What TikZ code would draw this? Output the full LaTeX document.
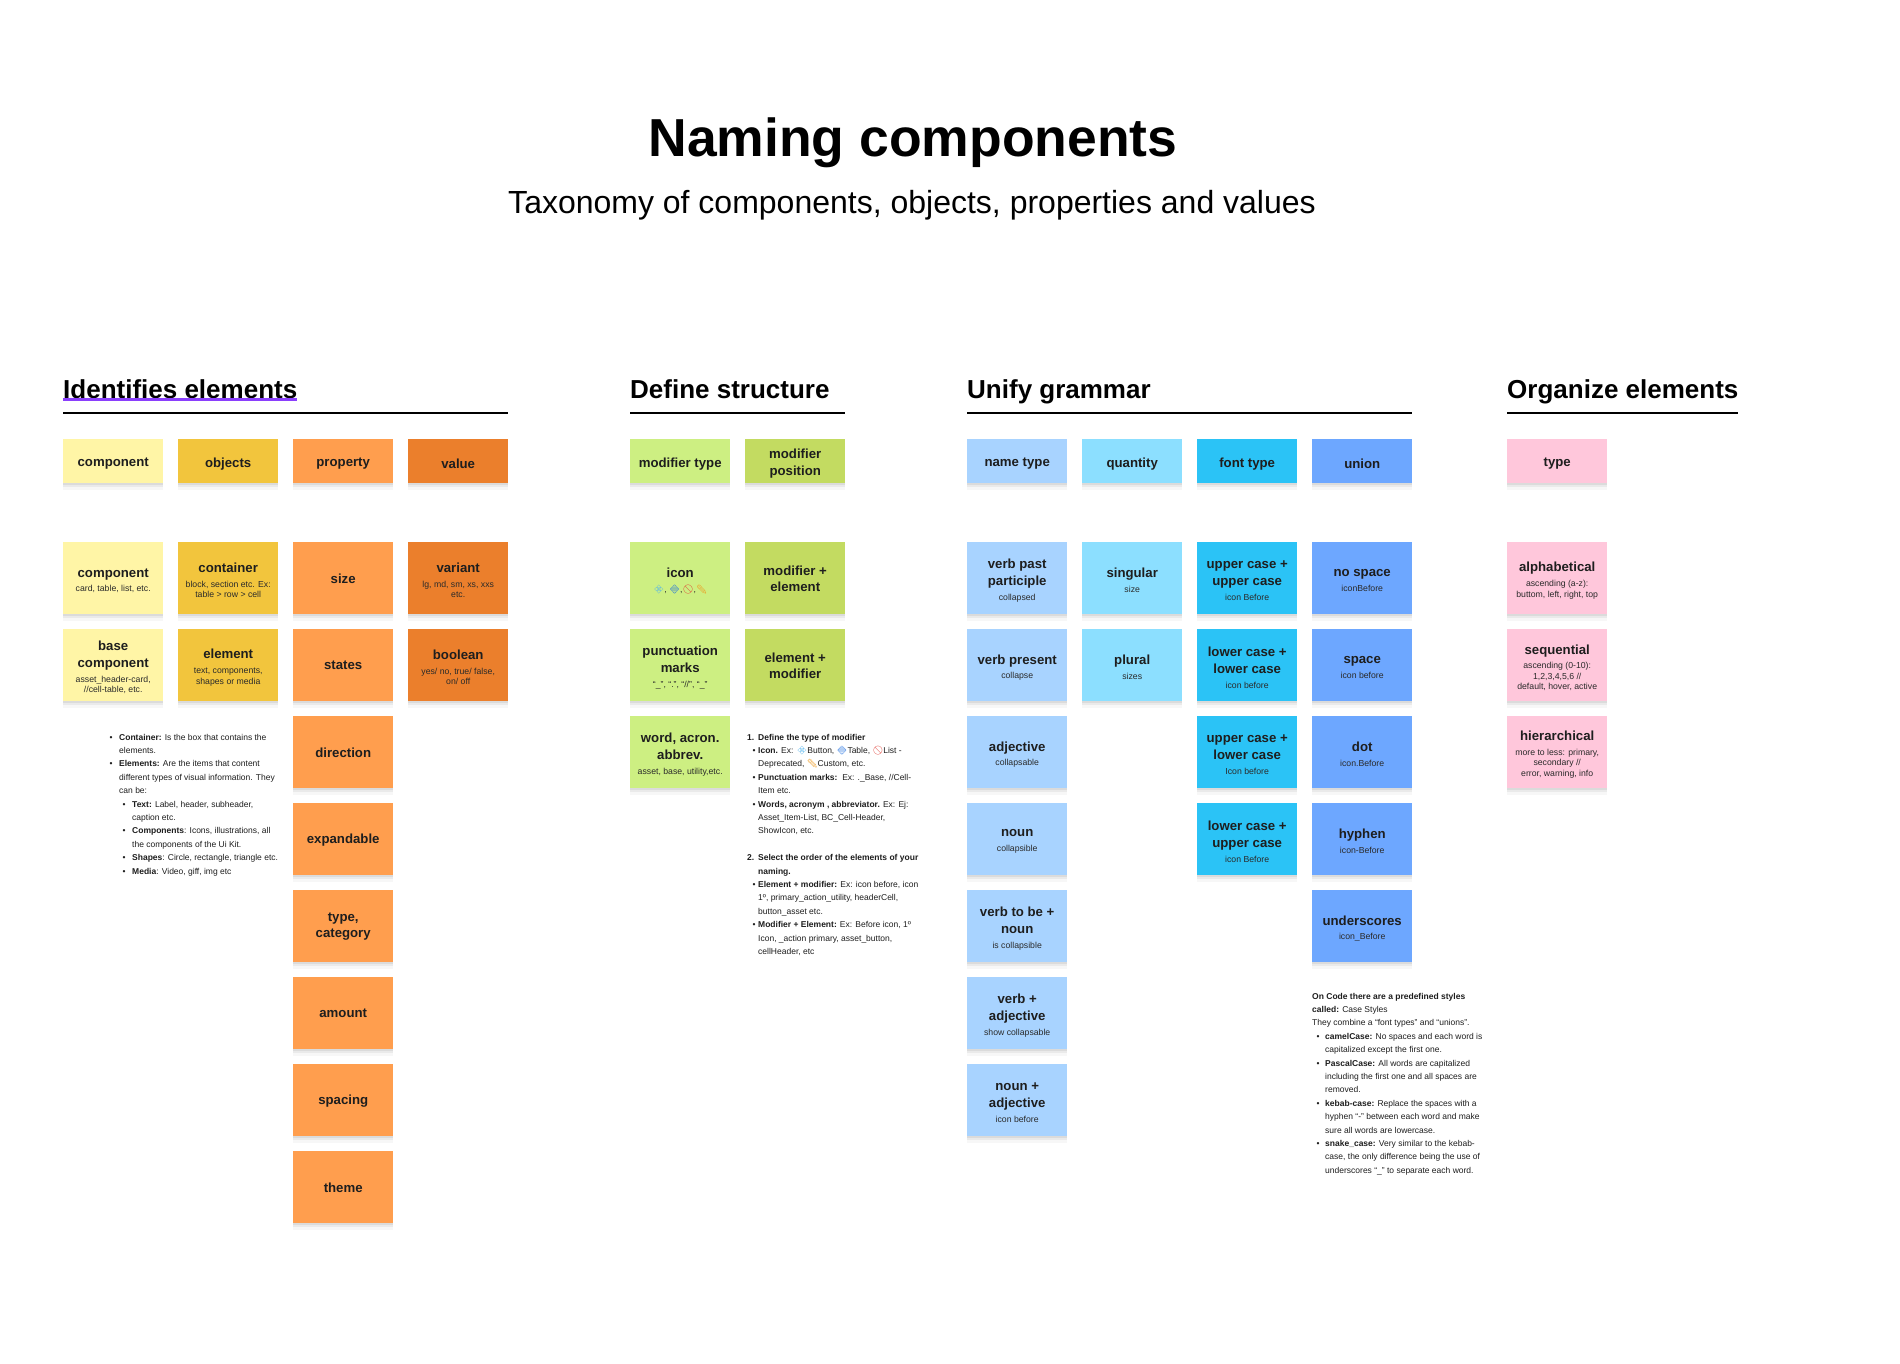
\documentclass[tikz,border=0pt]{standalone}
\usepackage{fontspec}
\setmainfont{Liberation Sans}
\newfontfamily\emoji{Noto Emoji}
\usetikzlibrary{shadows}
\definecolor{ink}{HTML}{1E1E1E}
\definecolor{subink}{HTML}{2A2A2A}
\definecolor{ulpurple}{HTML}{8A3FFC}
\definecolor{cYel}{HTML}{FFF5A6}
\definecolor{cMus}{HTML}{F2C53D}
\definecolor{cOr}{HTML}{FF9E4E}
\definecolor{cDOr}{HTML}{EB7F2C}
\definecolor{cLG}{HTML}{CDEF82}
\definecolor{cOG}{HTML}{C3DB61}
\definecolor{cNT}{HTML}{A8D3FF}
\definecolor{cQ}{HTML}{8CDFFF}
\definecolor{cFT}{HTML}{2BC3F6}
\definecolor{cU}{HTML}{6DA7FF}
\definecolor{cPk}{HTML}{FFC7DB}
\definecolor{emlb}{HTML}{4FB3EE}
\definecolor{emb}{HTML}{1F6FE0}
\definecolor{emr}{HTML}{E0382F}
\definecolor{emy}{HTML}{EE9A20}
\newcommand\EmA{{\emoji\textcolor{emlb}{💠}}}
\newcommand\EmB{{\emoji\textcolor{emb}{🔷}}}
\newcommand\EmC{{\emoji\textcolor{emr}{🚫}}}
\newcommand\EmD{{\emoji\textcolor{emy}{✏}}}
\newcommand\bh[1]{\vbox{\vskip4.8pt\hsize=98pt\centering\fontsize{13.2}{16.7}\selectfont\bfseries #1\par}}
\newcommand\bt[1]{\vbox{\vskip1pt\hsize=98pt\centering\fontsize{13.2}{16.7}\selectfont\bfseries #1\par}}
\newcommand\bts[2]{\vbox{\vskip4.8pt\hsize=98pt\centering\fontsize{13.2}{16.7}\selectfont\bfseries #1\par\vskip4.3pt\fontsize{8.7}{10.4}\selectfont\mdseries\color{subink}#2\par}}
\newcommand\NLine[2]{\hbox{\hskip#1pt\relax#2}}
\newcommand\NBul[3]{\hbox{\hskip#1pt\relax\hbox to 0pt{\hss\textbullet\hss}\hskip\dimexpr#2pt-#1pt\relax#3}}
\newcommand\NNum[4]{\hbox{\hskip#1pt\relax\hbox to\dimexpr#2pt-#1pt\relax{#3\hss}#4}}
\tikzset{
  card/.style={anchor=north west, inner sep=0pt, minimum width=100pt, minimum height=72pt, text=ink,
    drop shadow={shadow xshift=0pt, shadow yshift=-2pt, opacity=0.06, fill=black},
    drop shadow={shadow xshift=0pt, shadow yshift=-4pt, opacity=0.05, fill=black},
    drop shadow={shadow xshift=0pt, shadow yshift=-7pt, opacity=0.03, fill=black}},
  hcard/.style={card, minimum height=44pt},
  heading/.style={anchor=base west, inner sep=0pt, font=\fontsize{26}{30}\selectfont\bfseries, text=black},
  rulebar/.style={line width=2.6pt, black},
  note/.style={anchor=base west, inner sep=0pt, text=ink, font=\fontsize{8.5}{13.4}\selectfont},
}
\begin{document}
\begin{tikzpicture}[x=1pt,y=-1pt]
\useasboundingbox (0,0) rectangle (1900,1364);
\fill[white] (0,0) rectangle (1900,1364);

% titles
\node[anchor=base, inner sep=0pt, font=\fontsize{53.5}{60}\selectfont\bfseries, text=black] (title) at (913,157) {Naming components};
\node[anchor=base, inner sep=0pt, font=\fontsize{32}{38}\selectfont, text=black] (subtitle) at (912,214) {Taxonomy of components, objects, properties and values};

% section headings
\node[heading] (h1) at (63,398) {Identifies elements};
\draw[line width=3pt, ulpurple] ([yshift=-1.2pt]h1.base west) -- ([yshift=-1.2pt]h1.base east);
\node[heading] (h2) at (630,398) {Define structure};
\node[heading] (h3) at (967,398) {Unify grammar};
\node[heading] (h4) at (1507,398) {Organize elements};
\draw[rulebar] (63,413) -- (508,413);
\draw[rulebar] (630,413) -- (845,413);
\draw[rulebar] (967,413) -- (1412,413);
\draw[rulebar] (1507,413) -- (1738,413);

% ---------- Identifies elements
\node[hcard, fill=cYel] (hComp) at (63,439) {\bh{component}};
\node[hcard, fill=cMus] (hObj) at (178,439) {\bh{objects}};
\node[hcard, fill=cOr] (hProp) at (293,439) {\bh{property}};
\node[hcard, fill=cDOr] (hVal) at (408,439) {\bh{value}};

\node[card, fill=cYel] (comp) at (63,542) {\bts{component}{card, table, list, etc.}};
\node[card, fill=cYel] (base) at (63,629) {\bts{base\\component}{asset\_header-card,\\//cell-table, etc.}};
\node[card, fill=cMus] (cont) at (178,542) {\bts{container}{block, section etc. Ex:\\table > row > cell}};
\node[card, fill=cMus] (elem) at (178,629) {\bts{element}{text, components,\\shapes or media}};
\node[card, fill=cOr] (size) at (293,542) {\bt{size}};
\node[card, fill=cOr] (states) at (293,629) {\bt{states}};
\node[card, fill=cOr] (dir) at (293,716) {\bt{direction}};
\node[card, fill=cOr] (exp) at (293,803) {\bt{expandable}};
\node[card, fill=cOr] (typecat) at (293,890) {\bt{type,\\category}};
\node[card, fill=cOr] (amount) at (293,977) {\bt{amount}};
\node[card, fill=cOr] (spacing) at (293,1064) {\bt{spacing}};
\node[card, fill=cOr] (theme) at (293,1151) {\bt{theme}};
\node[card, fill=cDOr] (variant) at (408,542) {\bts{variant}{lg, md, sm, xs, xxs\\etc.}};
\node[card, fill=cDOr] (bool) at (408,629) {\bts{boolean}{yes/ no, true/ false,\\on/ off}};

\node[note] (note1) at (100,740) {\vtop{%
\NBul{11}{19}{\textbf{Container:} Is the box that contains the}
\NLine{19}{elements.}
\NBul{11}{19}{\textbf{Elements:} Are the items that content}
\NLine{19}{different types of visual information. They}
\NLine{19}{can be:}
\NBul{24}{32}{\textbf{Text:} Label, header, subheader,}
\NLine{32}{caption etc.}
\NBul{24}{32}{\textbf{Components}: Icons, illustrations, all}
\NLine{32}{the components of the Ui Kit.}
\NBul{24}{32}{\textbf{Shapes}: Circle, rectangle, triangle etc.}
\NBul{24}{32}{\textbf{Media}: Video, giff, img etc}}};

% ---------- Define structure
\node[hcard, fill=cLG] (hModT) at (630,439) {\bh{modifier type}};
\node[hcard, fill=cOG] (hModP) at (745,439) {\bh{modifier\\position}};
\node[card, fill=cLG] (icon) at (630,542) {\bts{icon}{\EmA, \EmB,\EmC,\EmD}};
\node[card, fill=cLG] (punct) at (630,629) {\bts{punctuation\\marks}{“\_”, “.”, “//”, “\_”}};
\node[card, fill=cLG] (word) at (630,716) {\bts{word, acron.\\abbrev.}{asset, base, utility,etc.}};
\node[card, fill=cOG] (model) at (745,542) {\bt{modifier +\\element}};
\node[card, fill=cOG] (elmod) at (745,629) {\bt{element +\\modifier}};

\node[note] (note2) at (745,740) {\vtop{%
\NNum{2}{13}{\textbf{1.}}{\textbf{Define the type of modifier}}
\NBul{9}{13}{\textbf{Icon.} Ex: \EmA Button, \EmB Table, \EmC List -}
\NLine{13}{Deprecated, \EmD Custom, etc.}
\NBul{9}{13}{\textbf{Punctuation marks:}\ \ Ex: .\_Base, //Cell-}
\NLine{13}{Item etc.}
\NBul{9}{13}{\textbf{Words, acronym , abbreviator.} Ex: Ej:}
\NLine{13}{Asset\_Item-List, BC\_Cell-Header,}
\NLine{13}{ShowIcon, etc.}
\hbox{}
\NNum{2}{13}{\textbf{2.}}{\textbf{Select the order of the elements of your}}
\NLine{13}{\textbf{naming.}}
\NBul{9}{13}{\textbf{Element + modifier:} Ex: icon before, icon}
\NLine{13}{1º, primary\_action\_utility, headerCell,}
\NLine{13}{button\_asset etc.}
\NBul{9}{13}{\textbf{Modifier + Element:} Ex: Before icon, 1º}
\NLine{13}{Icon, \_action primary, asset\_button,}
\NLine{13}{cellHeader, etc}}};

% ---------- Unify grammar
\node[hcard, fill=cNT] (hName) at (967,439) {\bh{name type}};
\node[hcard, fill=cQ] (hQty) at (1082,439) {\bh{quantity}};
\node[hcard, fill=cFT] (hFont) at (1197,439) {\bh{font type}};
\node[hcard, fill=cU] (hUnion) at (1312,439) {\bh{union}};

\node[card, fill=cNT] (vpp) at (967,542) {\bts{verb past\\participle}{collapsed}};
\node[card, fill=cNT] (vpr) at (967,629) {\bts{verb present}{collapse}};
\node[card, fill=cNT] (adj) at (967,716) {\bts{adjective}{collapsable}};
\node[card, fill=cNT] (noun) at (967,803) {\bts{noun}{collapsible}};
\node[card, fill=cNT] (vtbn) at (967,890) {\bts{verb to be +\\noun}{is collapsible}};
\node[card, fill=cNT] (vadj) at (967,977) {\bts{verb +\\adjective}{show collapsable}};
\node[card, fill=cNT] (nadj) at (967,1064) {\bts{noun +\\adjective}{icon before}};

\node[card, fill=cQ] (sing) at (1082,542) {\bts{singular}{size}};
\node[card, fill=cQ] (plur) at (1082,629) {\bts{plural}{sizes}};

\node[card, fill=cFT] (uu) at (1197,542) {\bts{upper case +\\upper case}{icon Before}};
\node[card, fill=cFT] (ll) at (1197,629) {\bts{lower case +\\lower case}{icon before}};
\node[card, fill=cFT] (ul) at (1197,716) {\bts{upper case +\\lower case}{Icon before}};
\node[card, fill=cFT] (lu) at (1197,803) {\bts{lower case +\\upper case}{icon Before}};

\node[card, fill=cU] (nosp) at (1312,542) {\bts{no space}{iconBefore}};
\node[card, fill=cU] (sp) at (1312,629) {\bts{space}{icon before}};
\node[card, fill=cU] (dot) at (1312,716) {\bts{dot}{icon.Before}};
\node[card, fill=cU] (hyph) at (1312,803) {\bts{hyphen}{icon-Before}};
\node[card, fill=cU] (unds) at (1312,890) {\bts{underscores}{icon\_Before}};

\node[note] (note3) at (1300,999) {\vtop{%
\NLine{12}{\textbf{On Code there are a predefined styles}}
\NLine{12}{\textbf{called:} Case Styles}
\NLine{12}{They combine a “font types” and “unions”.}
\NBul{18}{25}{\textbf{camelCase:} No spaces and each word is}
\NLine{25}{capitalized except the first one.}
\NBul{18}{25}{\textbf{PascalCase:} All words are capitalized}
\NLine{25}{including the first one and all spaces are}
\NLine{25}{removed.}
\NBul{18}{25}{\textbf{kebab-case:} Replace the spaces with a}
\NLine{25}{hyphen “-” between each word and make}
\NLine{25}{sure all words are lowercase.}
\NBul{18}{25}{\textbf{snake\_case:} Very similar to the kebab-}
\NLine{25}{case, the only difference being the use of}
\NLine{25}{underscores “\_” to separate each word.}}};

% ---------- Organize elements
\node[hcard, fill=cPk] (hType) at (1507,439) {\bh{type}};
\node[card, fill=cPk] (alpha) at (1507,542) {\bts{alphabetical}{ascending (a-z):\\buttom, left, right, top}};
\node[card, fill=cPk] (seq) at (1507,629) {\bts{sequential}{ascending (0-10):\\1,2,3,4,5,6 //\\default, hover, active}};
\node[card, fill=cPk] (hier) at (1507,716) {\bts{hierarchical}{more to less: primary,\\secondary //\\error, warning, info}};
\end{tikzpicture}
\end{document}
